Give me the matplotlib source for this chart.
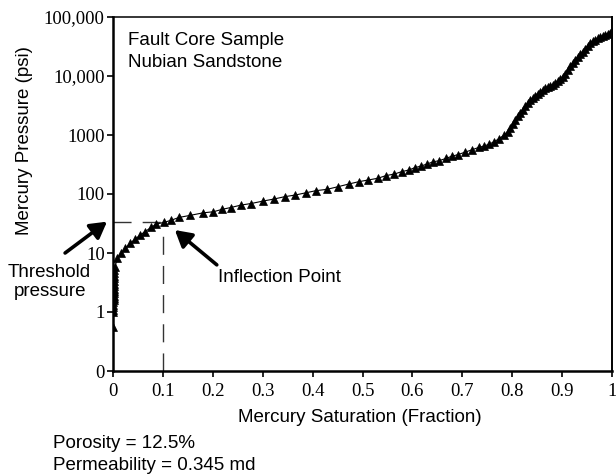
import matplotlib
matplotlib.use("Agg")
import matplotlib.pyplot as plt
from matplotlib.ticker import FixedLocator, FixedFormatter, NullLocator

plt.rcParams['lines.scale_dashes'] = False

# Mercury injection capillary pressure data
saturation = [
    0.000,
    0.001, 0.001, 0.001, 0.001, 0.001, 0.0012, 0.0012, 0.0012, 0.0014, 0.0014,
    0.0015, 0.0016, 0.0017, 0.0018, 0.002, 0.0022, 0.0025, 0.003,
    0.004, 0.009, 0.017, 0.025, 0.034, 0.044, 0.054, 0.064, 0.077, 0.087,
    0.102, 0.117, 0.132, 0.155, 0.181, 0.201, 0.219, 0.236, 0.257, 0.277,
    0.301, 0.322, 0.344, 0.365, 0.387, 0.407, 0.429, 0.451, 0.473, 0.493,
    0.512, 0.531, 0.547, 0.564, 0.579, 0.593, 0.605, 0.617, 0.629, 0.642,
    0.653, 0.667, 0.679, 0.691, 0.705, 0.719, 0.734, 0.744, 0.754, 0.764,
    0.774, 0.784, 0.791,
    0.796, 0.801, 0.806, 0.811, 0.816, 0.821, 0.826, 0.831, 0.836, 0.841,
    0.846, 0.851, 0.856, 0.861, 0.866, 0.871, 0.876, 0.881, 0.886, 0.891,
    0.896, 0.901, 0.906, 0.911, 0.916, 0.921, 0.926, 0.931, 0.936, 0.941,
    0.946, 0.951, 0.956, 0.961, 0.966, 0.971, 0.976, 0.981, 0.986, 0.991,
    0.995, 0.999,
]
pressure = [
    0.55,
    1.0, 1.1, 1.2, 1.3, 1.45, 1.6, 1.75, 1.9, 2.1, 2.3,
    2.5, 2.75, 3.0, 3.3, 3.7, 4.1, 4.6, 5.2,
    5.9, 8.1, 10, 12, 14.6, 17, 20, 23, 27.3, 31,
    33, 36, 40, 43.5, 48, 50, 55, 59, 65, 69,
    76, 82, 90, 96, 105, 114, 120, 133, 148, 162,
    173, 185, 205, 218, 240, 255, 280, 297, 322, 352,
    366, 400, 437, 464, 510, 560, 620, 650, 700, 770,
    870, 1000, 1130,
    1300, 1550, 1800, 2100, 2400, 2700, 3050, 3450, 3850, 4250,
    4650, 5050, 5450, 5850, 6200, 6550, 6850, 7150, 7550, 8100,
    8900, 9800, 11000, 12600, 14500, 16600, 18800, 21000, 23500, 26000,
    29000, 32500, 36000, 39000, 41500, 43800, 46000, 48000, 50500, 52500,
    54500, 56000,
]

x_ticks = [0, 0.1, 0.2, 0.3, 0.4, 0.5, 0.6, 0.7, 0.8, 0.9, 1.0]
x_tick_labels = ["0", "0.1", "0.2", "0.3", "0.4", "0.5", "0.6", "0.7", "0.8", "0.9", "1"]
y_ticks = [0.1, 1, 10, 100, 1000, 10000, 100000]
y_tick_labels = ["0", "1", "10", "100", "1000", "10,000", "100,000"]

# Threshold pressure / inflection point
inflection_sat = 0.1
threshold_pressure = 34

sans = ['Liberation Sans', 'DejaVu Sans']
serif = ['Liberation Serif', 'DejaVu Serif']
fs = 13.5

fig = plt.figure(figsize=(6.16, 4.74), dpi=100)
ax = fig.add_axes([113/616, 1 - 371/474, 499/616, 354/474])

ax.plot(saturation, pressure, color='black', lw=0.8, marker='^',
        markersize=5.5, markerfacecolor='black', markeredgecolor='black',
        markeredgewidth=0.5, zorder=3)

# Dashed guide lines to the inflection point
dash_kw = dict(color='#333333', lw=1.0, dashes=(13, 8), zorder=2)
ax.plot([0, inflection_sat], [threshold_pressure, threshold_pressure], **dash_kw)
ax.plot([inflection_sat, inflection_sat], [0.1, threshold_pressure], **dash_kw)

ax.set_yscale('log')
ax.set_xlim(0, 1)
ax.set_ylim(0.1, 100000)
ax.xaxis.set_major_locator(FixedLocator(x_ticks))
ax.xaxis.set_major_formatter(FixedFormatter(x_tick_labels))
ax.yaxis.set_major_locator(FixedLocator(y_ticks))
ax.yaxis.set_major_formatter(FixedFormatter(y_tick_labels))
ax.yaxis.set_minor_locator(NullLocator())
ax.xaxis.set_minor_locator(NullLocator())

ax.tick_params(axis='both', direction='out', length=4.5, width=1.2,
               labelsize=fs, color='black')
ax.tick_params(axis='y', pad=1.5)
ax.tick_params(axis='x', pad=4)
for lbl in ax.get_xticklabels() + ax.get_yticklabels():
    lbl.set_family(serif)

ax.spines['left'].set_linewidth(1.8)
ax.spines['bottom'].set_linewidth(1.8)
ax.spines['top'].set_linewidth(1.1)
ax.spines['right'].set_linewidth(1.4)

# Axis titles
fig.text(360/616, 1 - 418/474, "Mercury Saturation (Fraction)", family=sans,
         fontsize=fs, ha='center', va='center')
fig.text(25/616, 1 - 141/474, "Mercury Pressure (psi)", family=sans,
         fontsize=fs, ha='center', va='center', rotation=90)

# Sample description
ax.text(0.03, 0.921, "Fault Core Sample", transform=ax.transAxes,
        family=sans, fontsize=fs, va='baseline')
ax.text(0.03, 0.859, "Nubian Sandstone", transform=ax.transAxes,
        family=sans, fontsize=fs, va='baseline')

# Annotations
arrow_kw = dict(arrowstyle='-|>,head_length=0.7,head_width=0.4', lw=2.6,
                color='black', shrinkA=0, shrinkB=0, mutation_scale=14)
ax.annotate("", xy=(-0.012, threshold_pressure), xytext=(-0.096, 10),
            arrowprops=arrow_kw, annotation_clip=False)
ax.text(-0.127, 3.2, "Threshold\npressure", family=sans, fontsize=fs,
        ha='center', va='center', linespacing=1.15, clip_on=False)

ax.annotate("", xy=(0.124, 24.5), xytext=(0.208, 6.3),
            arrowprops=arrow_kw, annotation_clip=False)
ax.text(0.21, 3.77, "Inflection Point", family=sans, fontsize=fs,
        ha='left', va='center')

# Sample properties
fig.text(53/616, 1 - 443/474, "Porosity = 12.5%", family=sans,
         fontsize=fs, ha='left', va='center')
fig.text(53/616, 1 - 465/474, "Permeability = 0.345 md", family=sans,
         fontsize=fs, ha='left', va='center')

fig.savefig("out.png", dpi=100)
